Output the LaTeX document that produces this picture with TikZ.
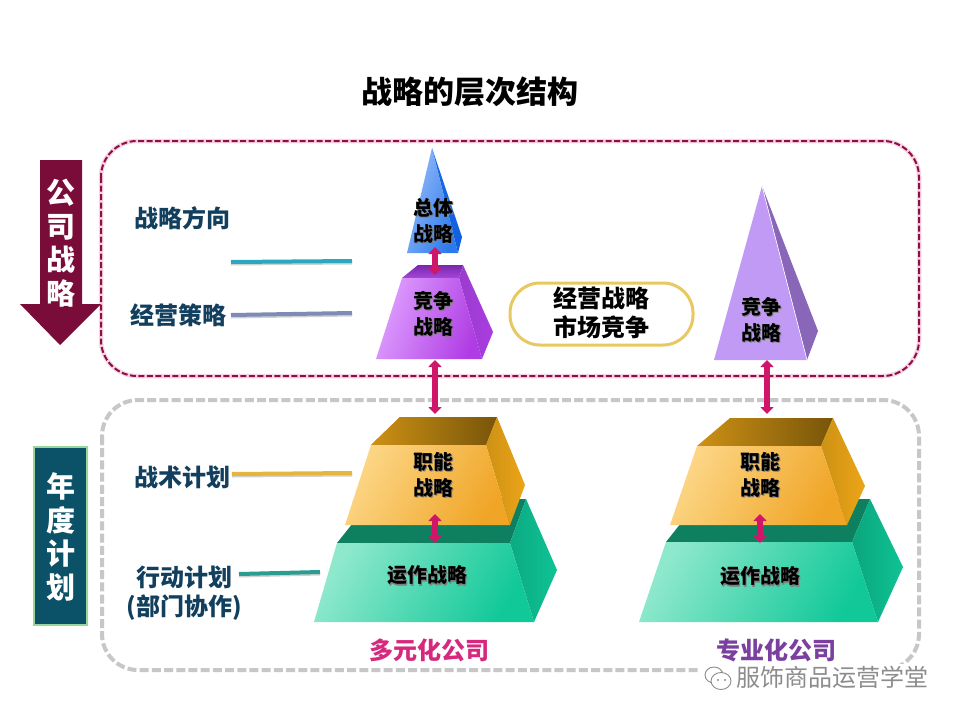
\documentclass[tikz,border=0pt]{standalone}
\usepackage{fontspec}
\setmainfont{Noto Sans CJK SC}
\usetikzlibrary{arrows.meta,shadings}
\newcommand{\shadowed}[1]{\makebox[0pt][l]{\raisebox{-1.2pt}{\hspace{1.3pt}\color{black!50}#1}}#1}
\definecolor{navy}{HTML}{123F5E}
\definecolor{wine}{HTML}{7A0C3A}
\definecolor{petrol}{HTML}{0B5168}
\definecolor{crim}{HTML}{D01668}
\definecolor{leadA}{HTML}{2AA8C0}
\definecolor{leadB}{HTML}{7F8AB5}
\definecolor{leadC}{HTML}{E8B53C}
\definecolor{leadD}{HTML}{2A9C90}
\tikzset{
  every node/.style={inner sep=0pt,outer sep=0pt},
  ttl/.style={font=\fontsize{31}{36}\selectfont\bfseries,text=black},
  sidetext/.style={font=\fontsize{29}{33.5}\selectfont\bfseries,text=white,align=center},
  lbl/.style={font=\fontsize{24}{29.5}\selectfont\bfseries,text=navy,align=center},
  pyr/.style={font=\fontsize{20}{26}\selectfont\bfseries,text=black,align=center},
  pill/.style={font=\fontsize{24}{29}\selectfont\bfseries,text=black,align=center},
  co/.style={font=\fontsize{24}{28}\selectfont\bfseries},
  leader/.style={line width=4pt,line cap=butt},
  link/.style={line width=5.5pt,color=crim,{Triangle[length=7pt,width=13pt]}-{Triangle[length=7pt,width=13pt]}},
  topframe/.style={draw=wine!75!crim,line width=2pt,dash pattern=on 6pt off 2.5pt,rounded corners=36pt},
  botframe/.style={draw=black!22,line width=4pt,dash pattern=on 9pt off 3.2pt,rounded corners=36pt},
  frontgreen/.style={left color={rgb,255:red,142;green,232;blue,204},right color={rgb,255:red,16;green,200;blue,152},shading angle=60},
  frontorange/.style={left color={rgb,255:red,252;green,214;blue,134},right color={rgb,255:red,240;green,165;blue,38},shading angle=60},
}
\begin{document}
\begin{tikzpicture}[x=1pt,y=-1pt]
\useasboundingbox (0,0) rectangle (960,720);
\fill[white] (0,0) rectangle (960,720);

\node[ttl] (title) at (470,92) {战略的层次结构};

% frames
\draw[draw=crim!18,line width=4.5pt,rounded corners=36pt] (101,141) rectangle (919,376);
\path[topframe] (101,141) rectangle (919,376);
\path[botframe] (102,400) rectangle (919,670);

% side marks
\fill[wine] (40,160) -- (82,160) -- (82,304) -- (101,304) -- (60,345) -- (20,304) -- (40,304) -- cycle;
\node[sidetext] (corp) at (61,243) {公\\司\\战\\略};
\node[draw=green!60!black!40,line width=1.2pt,fill=petrol,minimum width=53pt,minimum height=178pt] (yearbox) at (60.5,536) {};
\node[sidetext] (year) at (60.5,537) {年\\度\\计\\划};

% left labels and leaders
\node[lbl] (l1) at (182,218) {战略方向};
\node[lbl] (l2) at (178,315) {经营策略};
\node[lbl] (l3) at (182,477) {战术计划};
\node[lbl] (l4) at (184,593) {行动计划\\(部门协作)};
\coordinate (a1) at (231,262); \coordinate (b1) at (352,261);
\coordinate (a2) at (231,315); \coordinate (b2) at (352,313);
\coordinate (a3) at (232,474); \coordinate (b3) at (352,473);
\coordinate (a4) at (239,574); \coordinate (b4) at (320,572);
\draw[leader,color=black!18] ([yshift=-1.5pt]a1) -- ([yshift=-1.5pt]b1);
\draw[leader,color=black!18] ([yshift=-1.5pt]a2) -- ([yshift=-1.5pt]b2);
\draw[leader,color=black!18] ([yshift=-1.5pt]a3) -- ([yshift=-1.5pt]b3);
\draw[leader,color=black!18] ([yshift=-1.5pt]a4) -- ([yshift=-1.5pt]b4);
\draw[leader,color=leadA] (a1) -- (b1);
\draw[leader,color=leadB] (a2) -- (b2);
\draw[leader,color=leadC] (a3) -- (b3);
\draw[leader,color=leadD] (a4) -- (b4);

% left stack: green
\fill[color={rgb,255:red,14;green,128;blue,96}] (337,543) -- (372,499) -- (526,499) -- (510,543) -- cycle;
\shade[left color={rgb,255:red,12;green,170;blue,130},right color={rgb,255:red,14;green,195;blue,148}] (510,543) -- (526,499) -- (557,570) -- (534,622) -- cycle;
\shade[frontgreen] (337,543) -- (510,543) -- (534,622) -- (314,622) -- cycle;
% left stack: orange
\fill[color={rgb,255:red,196;green,137;blue,18}] (371,445) -- (400,417) -- (497,417) -- (486,445) -- cycle;
\shade[left color={rgb,255:red,205;green,145;blue,20},right color={rgb,255:red,120;green,85;blue,10}] (371,445) -- (400,417) -- (497,417) -- (486,445) -- cycle;
\shade[left color={rgb,255:red,205;green,145;blue,20},right color={rgb,255:red,236;green,165;blue,24}] (486,445) -- (497,417) -- (525,485) -- (510,525) -- cycle;
\shade[frontorange] (371,445) -- (486,445) -- (510,525) -- (345,525) -- cycle;

% right stack: green
\fill[color={rgb,255:red,14;green,128;blue,96}] (666,542) -- (700,499) -- (870,499) -- (852,542) -- cycle;
\shade[left color={rgb,255:red,12;green,165;blue,125},right color={rgb,255:red,14;green,195;blue,148}] (852,542) -- (870,499) -- (903,567) -- (878,622) -- cycle;
\shade[frontgreen] (666,542) -- (852,542) -- (878,622) -- (639,622) -- cycle;
% right stack: orange
\shade[left color={rgb,255:red,205;green,145;blue,20},right color={rgb,255:red,120;green,85;blue,10}] (697,446) -- (730,418) -- (833,418) -- (821,446) -- cycle;
\shade[left color={rgb,255:red,205;green,145;blue,20},right color={rgb,255:red,236;green,165;blue,24}] (821,446) -- (833,418) -- (865,486) -- (847,525) -- cycle;
\shade[frontorange] (697,446) -- (821,446) -- (847,525) -- (670,525) -- cycle;

% blue pyramid
\shade[top color={rgb,255:red,30;green,105;blue,225},bottom color={rgb,255:red,15;green,95;blue,225}] (432,148) -- (462,237) -- (458,253) -- cycle;
\shade[left color={rgb,255:red,150;green,190;blue,250},right color={rgb,255:red,45;green,120;blue,235},shading angle=70] (432,148) -- (458,253) -- (407,253) -- cycle;
% purple trapezoid (left)
\shade[top color={rgb,255:red,120;green,40;blue,175},bottom color={rgb,255:red,165;green,70;blue,215}] (402,278) -- (418,265) -- (463,265) -- (459,278) -- cycle;
\shade[left color={rgb,255:red,155;green,60;blue,205},right color={rgb,255:red,170;green,60;blue,225}] (459,278) -- (463,265) -- (493,332) -- (482,359) -- cycle;
\shade[left color={rgb,255:red,222;green,160;blue,255},right color={rgb,255:red,176;green,60;blue,228},shading angle=70] (402,278) -- (459,278) -- (482,359) -- (376,359) -- cycle;
% purple pyramid (right)
\fill[color={rgb,255:red,138;green,102;blue,184}] (762,186) -- (818,331) -- (807,360) -- cycle;
\fill[color={rgb,255:red,192;green,154;blue,245}] (762,186) -- (807,360) -- (714,360) -- cycle;
\draw[white,line width=.6pt] (762,186) -- (807,360);

% level links
\coordinate (la) at (435,247); \coordinate (lb) at (435,275);
\coordinate (lc) at (435,360); \coordinate (ld) at (435,414);
\coordinate (le) at (435,514); \coordinate (lf) at (435,543);
\coordinate (lg) at (767,360); \coordinate (lh) at (767,414);
\coordinate (li) at (760,514); \coordinate (lj) at (760,543);
\draw[link] (la) -- (lb);
\draw[link] (lc) -- (ld);
\draw[link] (le) -- (lf);
\draw[link] (lg) -- (lh);
\draw[link] (li) -- (lj);

% pyramid labels
\node[pyr] (p1) at (433,221) {\shadowed{总体}\\\shadowed{战略}};
\node[pyr] (p2) at (433,314) {\shadowed{竞争}\\\shadowed{战略}};
\node[pyr] (p3) at (761,320) {\shadowed{竞争}\\\shadowed{战略}};
\node[pyr] (p4) at (433,475) {\shadowed{职能}\\\shadowed{战略}};
\node[pyr] (p5) at (760,475) {\shadowed{职能}\\\shadowed{战略}};
\node[pyr] (p6) at (427,576) {\shadowed{运作战略}};
\node[pyr] (p7) at (760,577) {\shadowed{运作战略}};

% pill
\node[draw={rgb,255:red,232;green,200;blue,96},line width=3pt,fill=white,rounded corners=30pt,minimum width=183pt,minimum height=62pt] (pillbox) at (601.5,314) {};
\node[pill] (pilltext) at (601,313) {经营战略\\市场竞争};

% company names
\node[co,text={rgb,255:red,214;green,41;blue,126}] (c1) at (429,650) {多元化公司};
\node[co,text={rgb,255:red,123;green,63;blue,160}] (c2) at (776,650) {专业化公司};

% watermark
\fill[white] (700,664) rectangle (930,692);
\node[font=\fontsize{24}{28}\selectfont,text=black!45] (wm) at (832,677) {服饰商品运营学堂};
\draw[black!45,fill=white,line width=.9pt] (714,675) ellipse (9pt and 8pt);
\draw[black!45,fill=white,line width=.9pt] (721,681) ellipse (10pt and 8.5pt);
\fill[black!45] (718,680) circle (1.1pt) (725,680) circle (1.1pt);
\end{tikzpicture}
\end{document}
